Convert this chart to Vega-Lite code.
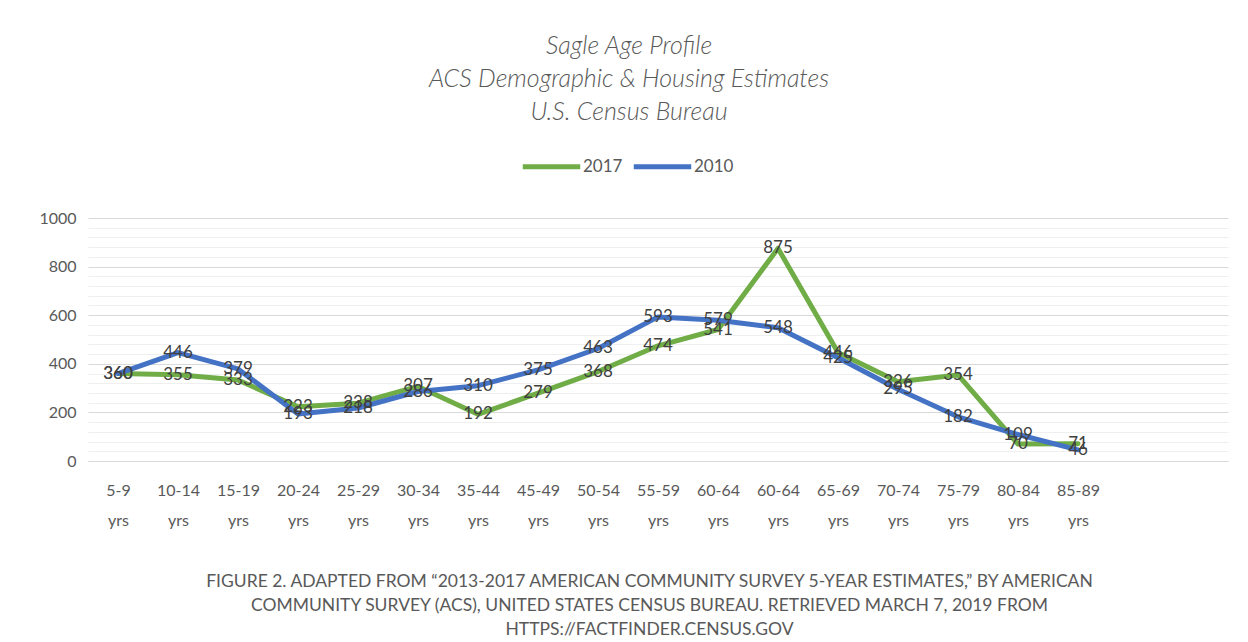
{
  "$schema": "https://vega.github.io/schema/vega-lite/v6.json",
  "autosize": {"type": "none"},
  "width": 1140,
  "height": 243,
  "padding": {"left": 88, "top": 218, "right": 20, "bottom": 181},
  "background": "white",
  "config": {
    "view": {"stroke": null},
    "font": "Lato",
    "text": {"font": "Lato"}
  },
  "title": {
    "text": ["Sagle Age Profile", "ACS Demographic & Housing Estimates", "U.S. Census Bureau"],
    "font": "Lato",
    "fontSize": 25,
    "fontStyle": "italic",
    "fontWeight": 300,
    "color": "#595959",
    "lineHeight": 33,
    "anchor": "middle",
    "dx": -29,
    "offset": 10
  },
  "data": {
    "values": [
      {"age": "5-9|yrs", "year": "2017", "value": 360},
      {"age": "10-14|yrs", "year": "2017", "value": 355},
      {"age": "15-19|yrs", "year": "2017", "value": 333},
      {"age": "20-24|yrs", "year": "2017", "value": 223},
      {"age": "25-29|yrs", "year": "2017", "value": 238},
      {"age": "30-34|yrs", "year": "2017", "value": 307},
      {"age": "35-44|yrs", "year": "2017", "value": 192},
      {"age": "45-49|yrs", "year": "2017", "value": 279},
      {"age": "50-54|yrs", "year": "2017", "value": 368},
      {"age": "55-59|yrs", "year": "2017", "value": 474},
      {"age": "60-64|yrs", "year": "2017", "value": 541},
      {"age": "60-64|yrs|b", "year": "2017", "value": 875},
      {"age": "65-69|yrs", "year": "2017", "value": 446},
      {"age": "70-74|yrs", "year": "2017", "value": 326},
      {"age": "75-79|yrs", "year": "2017", "value": 354},
      {"age": "80-84|yrs", "year": "2017", "value": 70},
      {"age": "85-89|yrs", "year": "2017", "value": 71},
      {"age": "5-9|yrs", "year": "2010", "value": 360},
      {"age": "10-14|yrs", "year": "2010", "value": 446},
      {"age": "15-19|yrs", "year": "2010", "value": 379},
      {"age": "20-24|yrs", "year": "2010", "value": 193},
      {"age": "25-29|yrs", "year": "2010", "value": 218},
      {"age": "30-34|yrs", "year": "2010", "value": 286},
      {"age": "35-44|yrs", "year": "2010", "value": 310},
      {"age": "45-49|yrs", "year": "2010", "value": 375},
      {"age": "50-54|yrs", "year": "2010", "value": 463},
      {"age": "55-59|yrs", "year": "2010", "value": 593},
      {"age": "60-64|yrs", "year": "2010", "value": 579},
      {"age": "60-64|yrs|b", "year": "2010", "value": 548},
      {"age": "65-69|yrs", "year": "2010", "value": 425},
      {"age": "70-74|yrs", "year": "2010", "value": 295},
      {"age": "75-79|yrs", "year": "2010", "value": 182},
      {"age": "80-84|yrs", "year": "2010", "value": 109},
      {"age": "85-89|yrs", "year": "2010", "value": 46}
    ]
  },
  "encoding": {
    "x": {
      "field": "age",
      "type": "nominal",
      "sort": null,
      "scale": {
        "domain": ["5-9|yrs", "10-14|yrs", "15-19|yrs", "20-24|yrs", "25-29|yrs", "30-34|yrs", "35-44|yrs", "45-49|yrs", "50-54|yrs", "55-59|yrs", "60-64|yrs", "60-64|yrs|b", "65-69|yrs", "70-74|yrs", "75-79|yrs", "80-84|yrs", "85-89|yrs", "e1", "e2"],
        "paddingInner": 0,
        "paddingOuter": 0.5
      },
      "axis": {
        "title": ["FIGURE 2. ADAPTED FROM \u201c2013-2017 AMERICAN COMMUNITY SURVEY 5-YEAR ESTIMATES,\u201d BY AMERICAN", "COMMUNITY SURVEY (ACS), UNITED STATES  CENSUS BUREAU. RETRIEVED MARCH 7, 2019 FROM", "HTTPS://FACTFINDER.CENSUS.GOV"],
        "titleFont": "Lato",
        "titleFontSize": 17.5,
        "titleFontWeight": "normal",
        "titleColor": "#595959",
        "titleLineHeight": 24,
        "titlePadding": 44,
        "titleX": 561,
        "labelExpr": "indexof(datum.label, '|') < 0 ? '' : [split(datum.label, '|')[0], split(datum.label, '|')[1]]",
        "labelAngle": 0,
        "labelFont": "Lato",
        "labelFontSize": 16,
        "labelColor": "#595959",
        "labelLineHeight": 30,
        "labelPadding": 21,
        "ticks": false,
        "domain": true,
        "domainColor": "#d9d9d9",
        "grid": false
      }
    },
    "y": {
      "field": "value",
      "type": "quantitative",
      "scale": {"domain": [0, 1000], "nice": false},
      "axis": {
        "title": null,
        "format": "d",
        "values": [0, 40, 80, 120, 160, 200, 240, 280, 320, 360, 400, 440, 480, 520, 560, 600, 640, 680, 720, 760, 800, 840, 880, 920, 960, 1000],
        "labelExpr": "datum.value % 200 == 0 ? datum.label : ''",
        "labelFont": "Lato",
        "labelFontSize": 16,
        "labelColor": "#595959",
        "labelPadding": 12,
        "ticks": false,
        "domain": false,
        "grid": true,
        "gridColor": {"condition": {"test": "datum.value % 200 == 0", "value": "#d9d9d9"}, "value": "#efefef"},
        "gridWidth": 1
      }
    }
  },
  "layer": [
    {
      "mark": {"type": "line", "strokeWidth": 5, "strokeJoin": "round", "strokeCap": "round"},
      "encoding": {
        "color": {
          "field": "year",
          "type": "nominal",
          "scale": {"domain": ["2017", "2010"], "range": ["#70AD47", "#4472C4"]},
          "legend": {
            "title": null,
            "orient": "none",
            "direction": "horizontal",
            "legendX": 432,
            "legendY": -83,
            "symbolType": "stroke",
            "symbolSize": 3300,
            "symbolStrokeWidth": 5,
            "labelFont": "Lato",
            "labelFontSize": 17,
            "labelColor": "#595959",
            "labelOffset": 0,
            "columnPadding": 0
          }
        }
      }
    },
    {
      "mark": {"type": "text", "fontSize": 17, "color": "#404040", "align": "center", "baseline": "middle", "font": "Lato"},
      "encoding": {
        "text": {"field": "value", "type": "quantitative"},
        "detail": {"field": "year"}
      }
    }
  ]
}
